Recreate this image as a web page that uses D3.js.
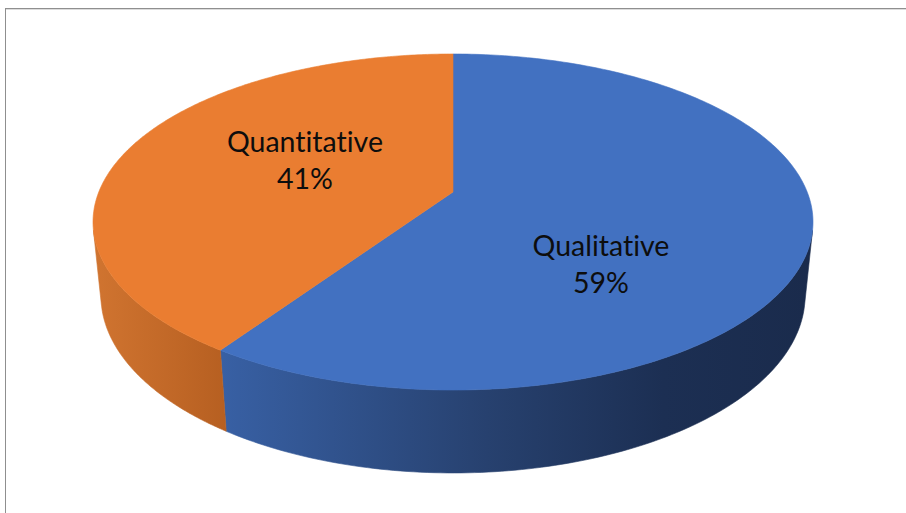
<!DOCTYPE html>
<html><head><meta charset="utf-8">
<script src="https://cdn.jsdelivr.net/npm/d3@7"></script>
<style>html,body{margin:0;padding:0;background:#fff;}svg{display:block;}text{font-variant-ligatures:none;font-feature-settings:"liga" 0;}</style>
</head><body>
<script>
// ---- data ----
const categories = ["Qualitative", "Quantitative"];
const values = [59.45, 40.55];
const pctLabels = ["59%", "41%"];
const topColors = ["#4271C1", "#EA7D31"];

// ---- geometry (perspective pie) ----
const W = 906, H = 513;
const cx = 453, cy = 192;           // projected pie centre
const F = 1761.8, Dist = 4.974;     // focal length, camera distance (radius units)
const sinP = 0.4592, cosP = 0.8883; // camera elevation
const depthH = 0.236;               // pie thickness (radius units)

function proj(X, Y, Z) {
  const d = Dist - Y * sinP - Z * cosP;
  return [cx + F * X / d, cy + F * (-Y * cosP + Z * sinP) / d];
}
const rim = (a, Y) => proj(Math.sin(a), Y, -Math.cos(a));

const svg = d3.select("body").append("svg").attr("width", W).attr("height", H);
const defs = svg.append("defs");

// frame
svg.append("rect").attr("x", 5.5).attr("y", 8.5).attr("width", 1000).attr("height", 1000)
  .attr("fill", "none").attr("stroke", "#8f8f8f").attr("stroke-width", 1);
svg.append("line").attr("x1", 6).attr("x2", 906).attr("y1", 9.5).attr("y2", 9.5)
  .attr("stroke", "#dcdcdc");

// gradients for side walls
const gBlue = defs.append("linearGradient").attr("id", "gBlue")
  .attr("gradientUnits", "userSpaceOnUse").attr("x1", 222).attr("x2", 810).attr("y1", 0).attr("y2", 0);
[[0, "#3860a4"], [0.45, "#27416f"], [0.75, "#1c2f53"], [1, "#1a2b4c"]].forEach(s =>
  gBlue.append("stop").attr("offset", s[0]).attr("stop-color", s[1]));
const gOrange = defs.append("linearGradient").attr("id", "gOrange")
  .attr("gradientUnits", "userSpaceOnUse").attr("x1", 95).attr("x2", 228).attr("y1", 0).attr("y2", 0);
[[0, "#d07430"], [1, "#b65f21"]].forEach(s =>
  gOrange.append("stop").attr("offset", s[0]).attr("stop-color", s[1]));
const sideFills = ["url(#gBlue)", "url(#gOrange)"];

const pie = d3.pie().sort(null).value(d => d);
const arcs = pie(values);

// visible range of the side wall
const av = Math.acos(-1 / (Dist * cosP));
const vis0 = av, vis1 = 2 * Math.PI - av;
const line = d3.line();
const N = 120;

const gSide = svg.append("g");
arcs.forEach((a, i) => {
  const s = Math.max(a.startAngle, vis0), e = Math.min(a.endAngle, vis1);
  if (e <= s) return;
  const pts = [];
  for (let k = 0; k <= N; k++) pts.push(rim(s + (e - s) * k / N, 0));
  for (let k = N; k >= 0; k--) pts.push(rim(s + (e - s) * k / N, -depthH));
  gSide.append("path").attr("d", line(pts) + "Z").attr("fill", sideFills[i])
    .attr("stroke", sideFills[i]).attr("stroke-width", 0.6);
});

const gTop = svg.append("g");
arcs.forEach((a, i) => {
  const pts = [proj(0, 0, 0)];
  for (let k = 0; k <= N * 2; k++) pts.push(rim(a.startAngle + (a.endAngle - a.startAngle) * k / (N * 2), 0));
  gTop.append("path").attr("d", line(pts) + "Z").attr("fill", topColors[i])
    .attr("stroke", topColors[i]).attr("stroke-width", 0.6);
});

// labels
const gLab = svg.append("g").attr("font-family", "Lato, 'Open Sans', sans-serif")
  .attr("font-size", 28.5).attr("fill", "#0d0d0d").attr("text-anchor", "middle");
arcs.forEach((a, i) => {
  const mid = (a.startAngle + a.endAngle) / 2;
  const x = cx + 0.43 * 360 * Math.sin(mid);
  const y = 212 - 179 * Math.cos(mid);
  const t = gLab.append("text").attr("x", x).attr("y", y);
  t.append("tspan").attr("x", x).attr("dy", -8).text(categories[i]);
  t.append("tspan").attr("x", x).attr("dy", 37).text(pctLabels[i]);
});
</script>
</body></html>
